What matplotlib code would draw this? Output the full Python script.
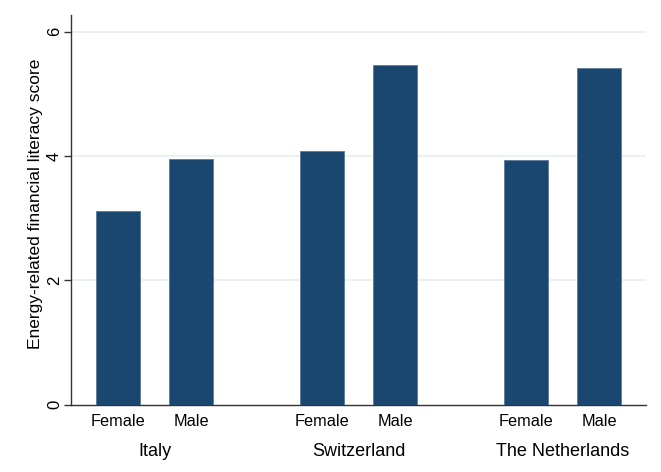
import matplotlib.pyplot as plt
import numpy as np

# values
countries = ["Italy", "Switzerland", "The Netherlands"]
genders = ["Female", "Male"]
female_scores = [3.12, 4.08, 3.93]
male_scores = [3.96, 5.46, 5.41]
y_ticks = [0, 2, 4, 6]

bar_color = "#1a476f"
grid_color = "#e6edf2"

plt.rcParams["font.family"] = ["Liberation Sans", "DejaVu Sans"]

fig = plt.figure(figsize=(6.61, 4.72), dpi=100)
ax = fig.add_axes([71 / 661, 1 - 404.5 / 472, 575 / 661, 389.5 / 472])

group_pos = np.arange(len(countries))
offset = 0.179
width = 0.213

ax.bar(group_pos - offset, female_scores, width, color=bar_color,
       edgecolor="#5a7a98", linewidth=0.6, zorder=3)
ax.bar(group_pos + offset, male_scores, width, color=bar_color,
       edgecolor="#5a7a98", linewidth=0.6, zorder=3)

ax.set_xlim(-0.409, 2.409)
ax.set_ylim(0, 6.27)

# horizontal grid lines (not at zero)
for t in y_ticks[1:]:
    ax.axhline(t, color=grid_color, linewidth=1.2, zorder=1)

ax.set_yticks(y_ticks)
ax.set_yticklabels([str(t) for t in y_ticks], rotation=90, va="center",
                   fontsize=12)
ax.tick_params(axis="y", length=5, width=1, color="#333333", pad=1.5)

# bar labels as major ticks, country names as minor ticks
bar_pos = np.sort(np.concatenate([group_pos - offset, group_pos + offset]))
ax.set_xticks(bar_pos)
ax.set_xticklabels(genders * len(countries), fontsize=11.7)
ax.set_xticks(group_pos, minor=True)
ax.set_xticklabels(countries, minor=True, fontsize=13)
ax.tick_params(axis="x", which="major", length=0, pad=7)
ax.tick_params(axis="x", which="minor", length=0, pad=28)

ax.set_ylabel("Energy-related financial literacy score", fontsize=12.5)
ax.yaxis.set_label_coords(-0.049, 0.515)

for side in ["top", "right"]:
    ax.spines[side].set_visible(False)
for side in ["left", "bottom"]:
    ax.spines[side].set_color("#333333")
    ax.spines[side].set_linewidth(1)

plt.savefig("out.png", dpi=100)
plt.close()
